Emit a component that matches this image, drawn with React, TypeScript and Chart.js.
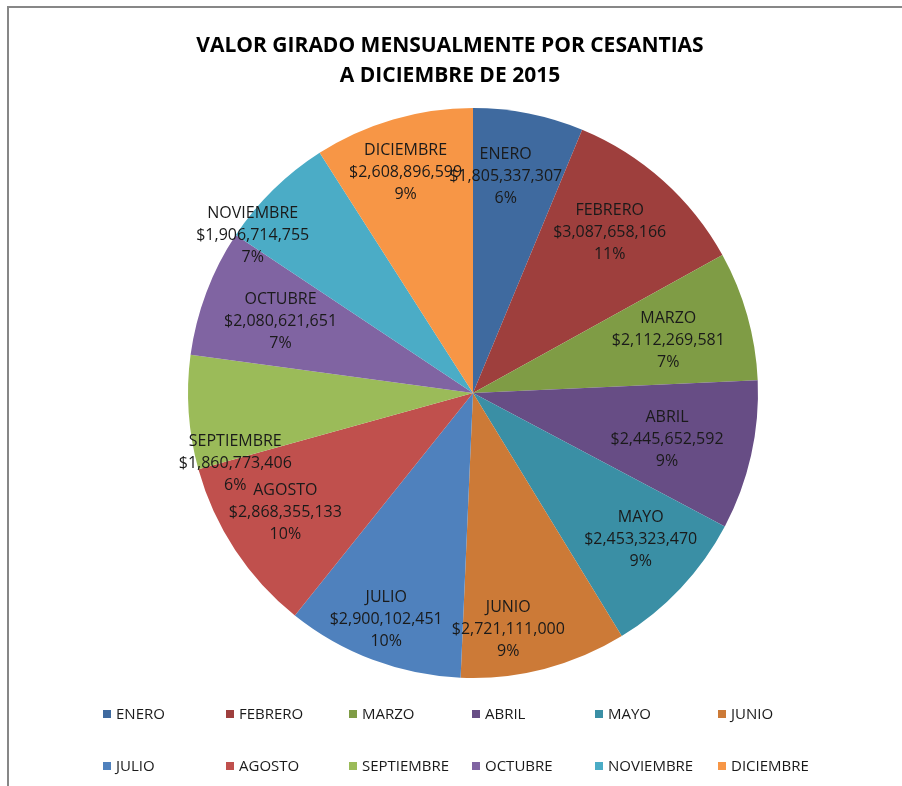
import React, { useEffect, useRef } from "react";
import { Chart, registerables } from "chart.js";

Chart.register(...registerables);

const months = [
  "ENERO", "FEBRERO", "MARZO", "ABRIL", "MAYO", "JUNIO",
  "JULIO", "AGOSTO", "SEPTIEMBRE", "OCTUBRE", "NOVIEMBRE", "DICIEMBRE",
];
const values = [
  1805337307, 3087658166, 2112269581, 2445652592, 2453323470, 2721111000,
  2900102451, 2868355133, 1860773406, 2080621651, 1906714755, 2608896599,
];
const percentLabels = ["6%", "11%", "7%", "9%", "9%", "9%", "10%", "10%", "6%", "7%", "7%", "9%"];
const colors = [
  "#3F6A9F", "#9E3F3D", "#7F9C45", "#674D85", "#3A8FA5", "#CC7A37",
  "#4F81BD", "#C0504D", "#9BBB59", "#8064A2", "#4BACC6", "#F79646",
];
const titleLines = ["VALOR GIRADO MENSUALMENTE POR CESANTIAS", "A DICIEMBRE DE 2015"];

// label placement (best-fit style): fraction of radius, and angular shift in degrees
const labelRadius = [0.77, 0.74, 0.71, 0.7, 0.78, 0.84, 0.85, 0.78, 0.87, 0.72, 0.95, 0.81];
const labelShift = [-2.7, -1.4, 0.6, 0.8, -2.2, 6, 0.4, 1, -12.6, -0.4, -10, -0.7];

const FONT = "'Open Sans', 'Liberation Sans', sans-serif";

const fmt = (v: number) => "$" + v.toLocaleString("en-US");

const decorPlugin = {
  id: "decor",
  afterDatasetsDraw(chart: any) {
    const ctx = chart.ctx;
    const meta = chart.getDatasetMeta(0);
    ctx.save();
    ctx.fillStyle = "#1a1a1a";
    ctx.font = `16px ${FONT}`;
    ctx.textAlign = "center";
    ctx.textBaseline = "middle";
    meta.data.forEach((arc: any, i: number) => {
      const p = arc.getProps(["x", "y", "startAngle", "endAngle", "outerRadius"], true);
      const mid = (p.startAngle + p.endAngle) / 2 + (labelShift[i] * Math.PI) / 180;
      const r = p.outerRadius * labelRadius[i];
      const x = p.x + Math.cos(mid) * r;
      const y = p.y + Math.sin(mid) * r;
      const lines = [months[i], fmt(values[i]), percentLabels[i]];
      const lh = 22;
      lines.forEach((t, k) => ctx.fillText(t, x, y + (k - 1) * lh));
    });

    // title
    ctx.font = `bold 21px ${FONT}`;
    ctx.fillStyle = "#000";
    titleLines.forEach((t, k) => ctx.fillText(t, 441, 38 + k * 30));

    // legend
    ctx.font = `15px ${FONT}`;
    ctx.textAlign = "left";
    months.forEach((m, i) => {
      const row = Math.floor(i / 6);
      const col = i % 6;
      const bx = 94 + col * 123;
      const by = 706 + row * 52;
      ctx.fillStyle = colors[i];
      ctx.fillRect(bx, by - 4, 8, 8);
      ctx.fillStyle = "#1a1a1a";
      ctx.fillText(m, bx + 13, by + 1);
    });
    ctx.restore();
  },
};

export default function App() {
  const ref = useRef<HTMLCanvasElement>(null);
  useEffect(() => {
    if (!ref.current) return;
    const chart = new Chart(ref.current, {
      type: "pie",
      data: {
        labels: months,
        datasets: [
          {
            data: values,
            backgroundColor: colors,
            borderWidth: 0,
          },
        ],
      },
      options: {
        responsive: false,
        animation: false,
        devicePixelRatio: 1,
        layout: { padding: { top: 100, bottom: 108, left: 35, right: 0 } },
        plugins: {
          legend: { display: false },
          tooltip: { enabled: false },
          title: { display: false },
        },
      },
      plugins: [decorPlugin],
    });
    return () => chart.destroy();
  }, []);
  return (
    <div
      style={{
        position: "absolute",
        left: 7,
        top: 6,
        width: 893,
        height: 778,
        borderLeft: "2px solid #878787",
        borderTop: "2px solid #878787",
        background: "#fff",
      }}
    >
      <canvas ref={ref} width={893} height={778} style={{ display: "block" }} />
    </div>
  );
}
